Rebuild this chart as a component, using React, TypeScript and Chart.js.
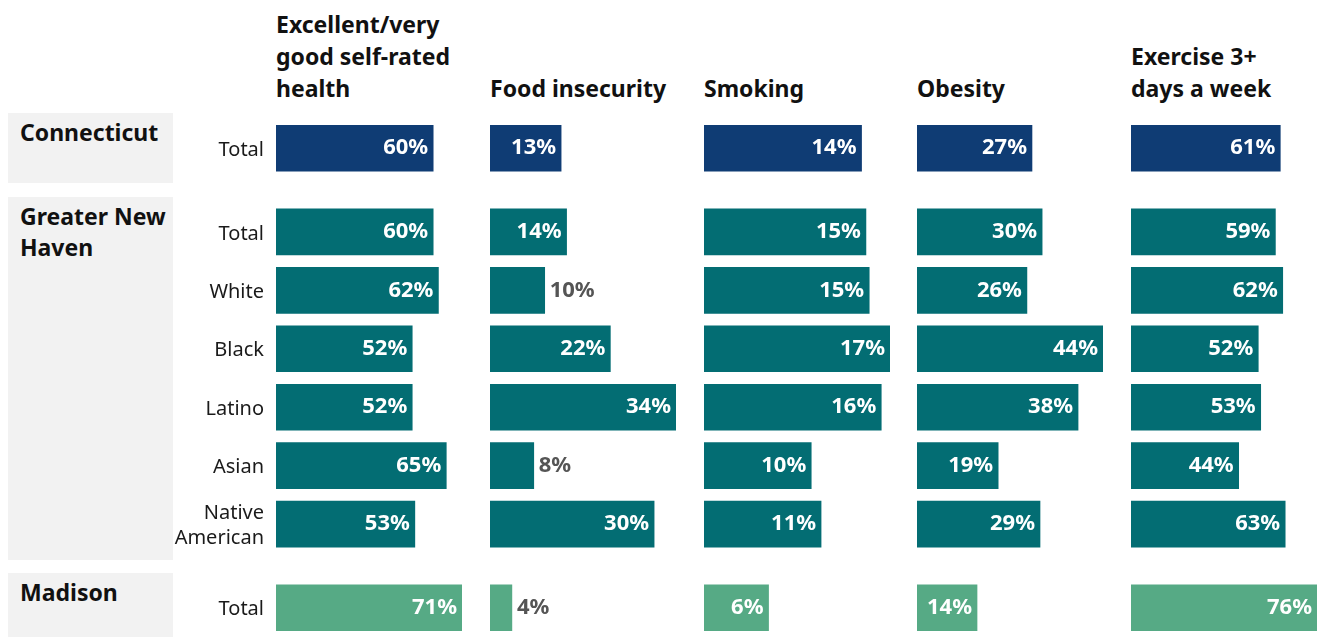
import React, { useEffect, useRef } from "react";
import { Chart, registerables } from "chart.js";

Chart.register(...registerables);

const FONT = "'Noto Sans', 'Open Sans', sans-serif";

// ---- data ----
const rowLabels = ["Total", "Total", "White", "Black", "Latino", "Asian", "Native\nAmerican", "Total"];
const rowGroups = [0, 1, 1, 1, 1, 1, 1, 2];
const groupNames = ["Connecticut", "Greater New\nHaven", "Madison"];
const groupColors = ["#0f3c74", "#036d73", "#56aa85"];
const measureTitles = [
  "Excellent/very\ngood self-rated\nhealth",
  "Food insecurity",
  "Smoking",
  "Obesity",
  "Exercise 3+\ndays a week",
];

const healthValues = [60, 60, 62, 52, 52, 65, 53, 71];
const foodInsecurityValues = [13, 14, 10, 22, 34, 8, 30, 4];
const smokingValues = [14.4, 14.8, 15.1, 17, 16.2, 9.8, 10.7, 5.9];
const obesityValues = [27.2, 29.6, 26, 44, 38.1, 19.2, 29.1, 14.2];
const exerciseValues = [61, 59, 62, 52, 53, 44, 63, 76];

const panelValues = [healthValues, foodInsecurityValues, smokingValues, obesityValues, exerciseValues];

// ---- layout ----
const W = 1325;
const H = 637;
const PANEL_X = [276, 490, 704, 917, 1131];
const BAR_SPAN = 186;
const GROUP_GAP = 0.43;
const CANVAS_TOP = 119;
const CANVAS_H = 518;
const AXIS_W = 120;

const groupBoxes = [
  { top: 113, height: 70 },
  { top: 197, height: 363 },
  { top: 573, height: 70 },
];

const valueLabelPlugin = {
  id: "valueLabels",
  afterDatasetsDraw(chart: any) {
    const ctx = chart.ctx;
    const meta = chart.getDatasetMeta(0);
    const vals = chart.data.datasets[0].data as any[];
    ctx.save();
    ctx.font = `bold 22px ${FONT}`;
    ctx.textBaseline = "middle";
    meta.data.forEach((bar: any, i: number) => {
      const { x, y, base } = bar.getProps(["x", "y", "base"], true);
      const text = Math.round(vals[i].x) + "%";
      if (x - base >= 58) {
        ctx.fillStyle = "#ffffff";
        ctx.textAlign = "right";
        ctx.fillText(text, x - 5, y);
      } else {
        ctx.fillStyle = "#555555";
        ctx.textAlign = "left";
        ctx.fillText(text, x + 5, y);
      }
    });
    ctx.restore();
  },
};

function Panel({ index }: { index: number }) {
  const ref = useRef<HTMLCanvasElement>(null);
  const values = panelValues[index];
  const first = index === 0;
  const axisW = first ? AXIS_W : 0;
  const left = PANEL_X[index] - axisW;
  const width = index === 4 ? W - left : axisW + 214;

  useEffect(() => {
    if (!ref.current) return;
    const positions = values.map((_, i) => i + rowGroups[i] * GROUP_GAP);
    const chart = new Chart(ref.current, {
      type: "bar",
      data: {
        datasets: [
          {
            data: values.map((v, i) => ({ x: v, y: positions[i] })),
            backgroundColor: values.map((_, i) => groupColors[rowGroups[i]]),
            barThickness: 46,
            borderWidth: 0,
          } as any,
        ],
      },
      options: {
        indexAxis: "y",
        responsive: false,
        animation: false,
        layout: { padding: { left: 0, right: width - axisW - BAR_SPAN, top: 0, bottom: 0 } },
        plugins: { legend: { display: false }, tooltip: { enabled: false } },
        scales: {
          x: { type: "linear", min: 0, max: Math.max(...values), display: false, offset: false },
          y: {
            type: "linear",
            reverse: true,
            offset: false,
            grace: 0,
            min: -0.5,
            max: positions[positions.length - 1] + 0.5,
            display: first,
            grid: { display: false, drawTicks: false, offset: false },
            border: { display: false },
            afterBuildTicks: (s: any) => {
              s.ticks = positions.map((v) => ({ value: v }));
            },
            afterFit: (s: any) => {
              s.width = axisW;
              s.paddingTop = 0;
              s.paddingBottom = 0;
            },
            ticks: {
              autoSkip: false,
              padding: 12,
              labelOffset: 2,
              color: "#1a1a1a",
              font: { family: FONT, size: 20, lineHeight: 1.25 },
              callback: (_v: any, i: number) => rowLabels[i].split("\n"),
            },
          } as any,
        },
      } as any,
      plugins: [valueLabelPlugin],
    });
    return () => chart.destroy();
  }, []);

  return (
    <canvas
      ref={ref}
      width={width}
      height={CANVAS_H}
      style={{ position: "absolute", left, top: CANVAS_TOP, width, height: CANVAS_H, display: "block" }}
    />
  );
}

export default function App() {
  return (
    <div
      style={{
        position: "absolute",
        left: 0,
        top: 0,
        width: W,
        height: H,
        overflow: "hidden",
        background: "#ffffff",
        fontFamily: FONT,
      }}
    >
      {groupBoxes.map((b, i) => (
        <div
          key={"g" + i}
          style={{
            position: "absolute",
            left: 8,
            top: b.top,
            width: 165,
            height: b.height,
            background: "#f2f2f2",
            boxSizing: "border-box",
            padding: "4px 12px",
            fontWeight: 700,
            fontSize: 23,
            lineHeight: "31px",
            color: "#111",
            whiteSpace: "pre",
          }}
        >
          {groupNames[i]}
        </div>
      ))}
      {measureTitles.map((t, i) => (
        <div
          key={"h" + i}
          style={{
            position: "absolute",
            left: PANEL_X[i],
            top: 0,
            height: 104,
            width: 205,
            display: "flex",
            flexDirection: "column",
            justifyContent: "flex-end",
            fontWeight: 700,
            fontSize: 23,
            lineHeight: "32px",
            color: "#111",
            whiteSpace: "pre-line",
          }}
        >
          {t}
        </div>
      ))}
      {panelValues.map((_, i) => (
        <Panel key={"p" + i} index={i} />
      ))}
    </div>
  );
}
